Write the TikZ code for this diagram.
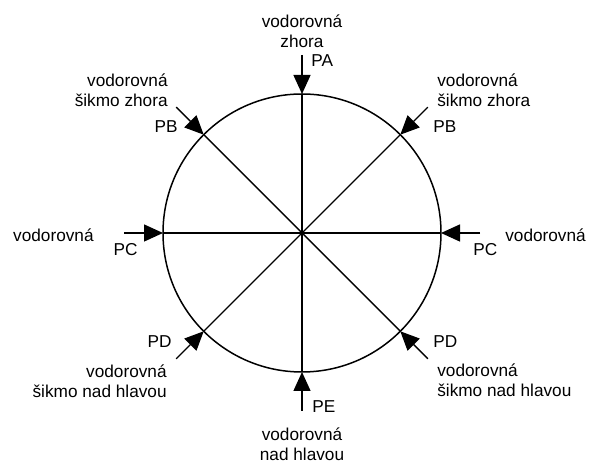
\documentclass[tikz,border=0pt]{standalone}
\usepackage{fontspec}
\setmainfont{Liberation Sans}
\usetikzlibrary{arrows.meta, calc}

\begin{document}
\begin{tikzpicture}[
    every node/.style={font=\fontsize{9.8}{11.4}\selectfont, inner sep=0pt},
    ring/.style={circle, draw, line width=0.85pt, minimum size=5.56cm, outer sep=0pt},
    axis/.style={line width=0.8pt},
    inflow/.style={line width=0.8pt, -{Triangle[length=0.38cm, width=0.34cm]}},
    side/.style={align=left}
  ]
  \useasboundingbox (0,0) rectangle (12,9.44);
  \node[ring] (ring) at (6.04,4.78) {};
  % diameters
  \draw[axis] (ring.north) -- (ring.south);
  \draw[axis] (ring.west) -- (ring.east);
  \draw[axis] (ring.north west) -- (ring.south east);
  \draw[axis] (ring.north east) -- (ring.south west);
  % incoming directions
  \foreach \ang/\anc/\nm in {90/north/n, 45/north east/ne, 135/north west/nw, 0/east/e,
                             180/west/w, -45/south east/se, -135/south west/sw, -90/south/s}{
    \coordinate (from-\nm) at ($(ring.\anc)+(\ang:0.78)$);
    \draw[inflow] (from-\nm) -- (ring.\anc);
  }
  % labels (base = last line)
  \node[anchor=base, align=center] (txt-n) at (6.04,8.48) {vodorovná\\zhora};
  \node[anchor=base west] (pa) at (6.22,8.10) {PA};
  \node[anchor=base east, align=right] (txt-nw) at (3.36,7.30) {vodorovná\\šikmo zhora};
  \node[anchor=base east] (pb-l) at (3.56,6.78) {PB};
  \node[anchor=base west, side] (txt-ne) at (8.74,7.30) {vodorovná\\šikmo zhora};
  \node[anchor=base west] (pb-r) at (8.66,6.78) {PB};
  \node[anchor=base east] (txt-w) at (1.88,4.60) {vodorovná};
  \node[anchor=base east] (pc-l) at (2.76,4.32) {PC};
  \node[anchor=base west] (txt-e) at (10.10,4.60) {vodorovná};
  \node[anchor=base west] (pc-r) at (9.46,4.32) {PC};
  \node[anchor=base east] (pd-l) at (3.44,2.48) {PD};
  \node[anchor=base east, align=right] (txt-sw) at (3.34,1.48) {vodorovná\\šikmo nad hlavou};
  \node[anchor=base west] (pd-r) at (8.66,2.48) {PD};
  \node[anchor=base west, side] (txt-se) at (8.74,1.50) {vodorovná\\šikmo nad hlavou};
  \node[anchor=base west] (pe) at (6.24,1.18) {PE};
  \node[anchor=base, align=center] (txt-s) at (6.04,0.22) {vodorovná\\nad hlavou};
\end{tikzpicture}
\end{document}
